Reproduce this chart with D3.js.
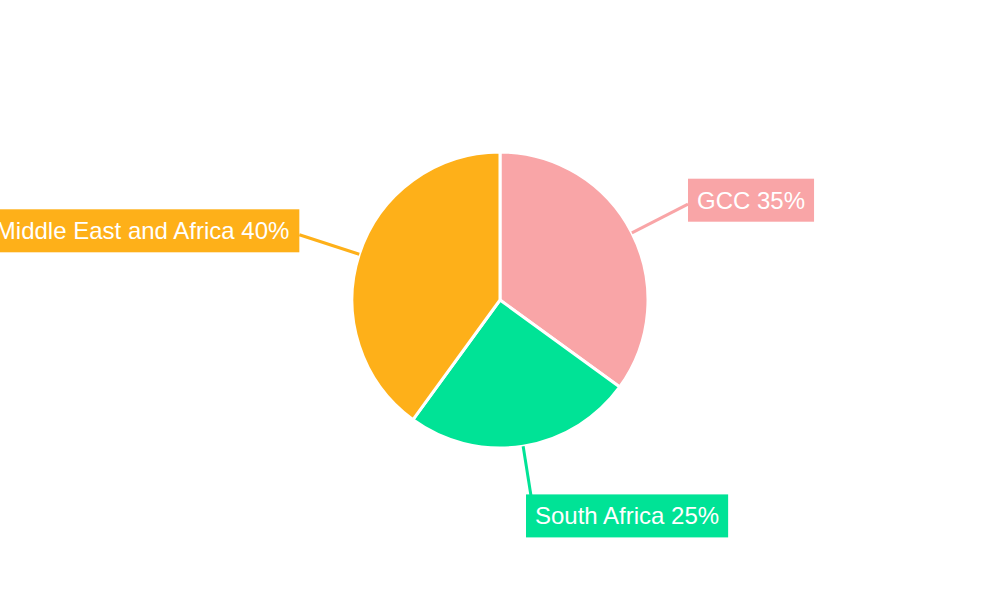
<!DOCTYPE html>
<html>
<head>
<meta charset="utf-8">
<script src="https://cdn.jsdelivr.net/npm/d3@7"></script>
<style>
html,body{margin:0;padding:0;background:#fff;}
svg{display:block;font-family:"Liberation Sans",Arial,sans-serif;}
</style>
</head>
<body>
<svg id="chart" width="1000" height="600"></svg>
<script>
const categories = ["GCC", "South Africa", "Middle East and Africa"];
const values = [35, 25, 40];
const colors = ["#F9A5A7", "#00E396", "#FEB019"];

const W = 1000, H = 600, cx = 500, cy = 300, R = 148, Rlabel = 211;
const svg = d3.select("#chart");
const g = svg.append("g").attr("transform", `translate(${cx},${cy})`);

const data = categories.map((c, i) => ({name: c, value: values[i], color: colors[i]}));
const pie = d3.pie().sort(null).value(d => d.value);
const arcs = pie(data);
const arc = d3.arc().innerRadius(0).outerRadius(R);

g.selectAll("path.slice").data(arcs).join("path")
  .attr("class", "slice")
  .attr("d", arc)
  .attr("fill", d => d.data.color)
  .attr("stroke", "#fff")
  .attr("stroke-width", 3)
  .attr("stroke-linejoin", "round");

const pt = (a, r) => [r * Math.sin(a), -r * Math.cos(a)];

arcs.forEach(d => {
  const mid = (d.startAngle + d.endAngle) / 2;
  const p0 = pt(mid, R);
  const p1 = pt(mid, Rlabel);
  g.append("line")
    .attr("x1", p0[0]).attr("y1", p0[1])
    .attr("x2", p1[0]).attr("y2", p1[1])
    .attr("stroke", d.data.color).attr("stroke-width", 3);

  const lg = g.append("g");
  const rect = lg.append("rect").attr("fill", d.data.color);
  const txt = lg.append("text")
    .text(`${d.data.name} ${d.data.value}%`)
    .attr("fill", "#fff")
    .attr("font-size", 24);
  const tw = txt.node().getComputedTextLength();
  const bw = tw + 18, bh = 43;
  let bx, by;
  const s = Math.sin(mid);
  if (Math.abs(s) > 0.5) {
    bx = s > 0 ? p1[0] : p1[0] - bw;
    by = p1[1] - 4 - bh / 2;
  } else {
    bx = p1[0] - 7;
    by = Math.cos(mid) < 0 ? p1[1] - 14 : p1[1] - bh + 14;
  }
  rect.attr("x", bx).attr("y", by).attr("width", bw).attr("height", bh);
  txt.attr("x", bx + 9 - (s < -0.5 ? 1 : 0)).attr("y", by + bh / 2 + 8.5);
});
</script>
</body>
</html>
